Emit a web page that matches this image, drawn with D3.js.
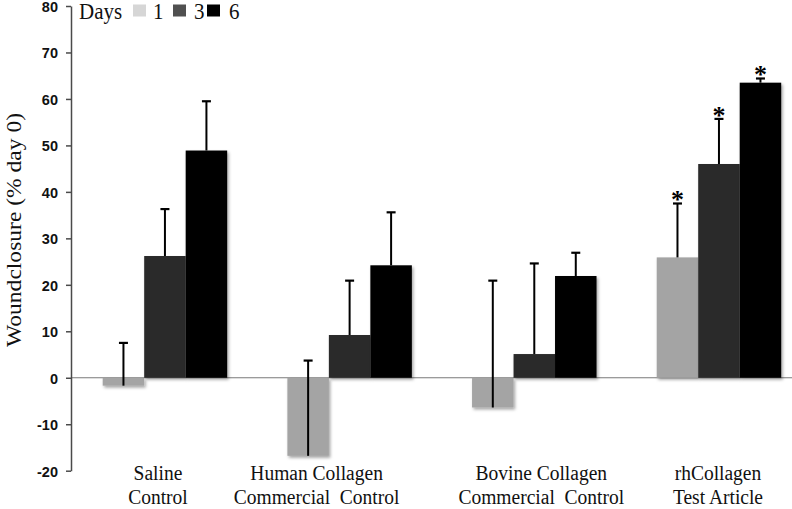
<!DOCTYPE html>
<html>
<head>
<meta charset="utf-8">
<script src="https://cdn.jsdelivr.net/npm/d3@7"></script>
<style>
  html, body { margin: 0; padding: 0; background: #fff; }
  svg { display: block; }
</style>
</head>
<body>
<svg id="chart" width="792" height="509"></svg>
<script>
// ---------------- DATA ----------------
const categories = ["Saline Control", "Human Collagen Commercial Control", "Bovine Collagen Commercial Control", "rhCollagen Test Article"];
const labelLine1 = ["Saline", "Human Collagen", "Bovine Collagen", "rhCollagen"];
const labelLine2 = ["Control", "Commercial  Control", "Commercial  Control", "Test Article"];
const days = ["1", "3", "6"];
const day1 = [-1.7, -16.8, -6.4, 25.9];
const day3 = [26.2, 9.2, 5.1, 46.0];
const day6 = [48.9, 24.2, 21.9, 63.5];
const day1Err = [9.2, 20.5, 27.3, 11.6];
const day3Err = [10.1, 11.7, 19.5, 9.7];
const day6Err = [10.6, 11.4, 5.0, 0.9];
const significant = [false, false, false, true];
const yTicks = [-20, -10, 0, 10, 20, 30, 40, 50, 60, 70, 80];
const yTitle = "Woundclosure (% day 0)";
const legendTitle = "Days";

// ---------------- LAYOUT ----------------
const W = 792, H = 509;
const axisX = 71;
const yTop = 6, yBottom = 470.7;
const barColors = ["#a4a4a4", "#2a2a2a", "#000000"];
const legendColors = ["#d6d6d6", "#505050", "#000000"];
const labelNudge = [-7, -33, 7, -1];
const serif = "'Liberation Serif', 'Times New Roman', serif";
const sans = "'Liberation Sans', Arial, sans-serif";
const vStretch = 1.08;

const svg = d3.select("#chart");
const defs = svg.append("defs");
const f = defs.append("filter").attr("id", "shadow")
  .attr("x", "-10%").attr("y", "-10%").attr("width", "130%").attr("height", "130%");
f.append("feDropShadow").attr("dx", 1.5).attr("dy", 2).attr("stdDeviation", 1.5)
  .attr("flood-color", "#000").attr("flood-opacity", 0.35);

const y = d3.scaleLinear().domain([-20, 80]).range([yBottom, yTop]);
const x0 = d3.scaleBand().domain(categories).range([72.6, 811.3])
  .paddingInner(0.326).paddingOuter(0.163);
const x1 = d3.scaleBand().domain(days).range([0, x0.bandwidth()]).padding(0);

const series = [
  { day: "1", values: day1, errs: day1Err },
  { day: "3", values: day3, errs: day3Err },
  { day: "6", values: day6, errs: day6Err }
];

// zero line
svg.append("line")
  .attr("x1", axisX).attr("x2", W)
  .attr("y1", y(0)).attr("y2", y(0))
  .attr("stroke", "#7a7a7a").attr("stroke-width", 1.2);

// bars
series.forEach((s, si) => {
  const g = svg.append("g").attr("filter", "url(#shadow)");
  g.selectAll("rect").data(categories).join("rect")
    .attr("x", (c) => x0(c) + x1(s.day))
    .attr("width", x1.bandwidth())
    .attr("y", (c, i) => y(Math.max(0, s.values[i])))
    .attr("height", (c, i) => Math.abs(y(s.values[i]) - y(0)))
    .attr("fill", barColors[si]);
});

// error bars
series.forEach((s) => {
  const g = svg.append("g");
  categories.forEach((c, i) => {
    const cx = x0(c) + x1(s.day) + x1.bandwidth() / 2;
    const yv = y(s.values[i]);
    const ye = y(s.values[i] + s.errs[i]);
    g.append("line").attr("x1", cx).attr("x2", cx).attr("y1", yv).attr("y2", ye)
      .attr("stroke", "#000").attr("stroke-width", 2);
    g.append("line").attr("x1", cx - 4.5).attr("x2", cx + 4.5).attr("y1", ye).attr("y2", ye)
      .attr("stroke", "#000").attr("stroke-width", 2.2);
    if (significant[i]) {
      g.append("text").attr("x", cx).attr("y", ye + 5)
        .attr("text-anchor", "middle")
        .attr("font-family", serif).attr("font-weight", "bold").attr("font-size", 26)
        .attr("fill", "#000").text("*");
    }
  });
});

// y axis
const yAxis = d3.axisLeft(y).tickValues(yTicks).tickSize(5).tickSizeOuter(0).tickPadding(8)
  .tickFormat((d) => String(d));
const ag = svg.append("g").attr("transform", `translate(${axisX},0)`).call(yAxis);
ag.select(".domain").attr("stroke", "#4a4a4a").attr("stroke-width", 1.5);
ag.selectAll(".tick line").attr("stroke", "#4a4a4a").attr("stroke-width", 1.5);
ag.selectAll(".tick text")
  .attr("font-family", sans).attr("font-weight", "bold").attr("font-size", 14.5)
  .attr("fill", "#111").attr("dy", "0.38em");

// y title
svg.append("text")
  .attr("transform", `translate(21,230) rotate(-90)`)
  .attr("text-anchor", "middle")
  .attr("font-family", serif).attr("font-size", 22)
  .attr("textLength", 234).attr("lengthAdjust", "spacingAndGlyphs")
  .attr("fill", "#111").text(yTitle);

// category labels
categories.forEach((c, i) => {
  const cx = x0(c) + x0.bandwidth() / 2 + labelNudge[i];
  [labelLine1[i], labelLine2[i]].forEach((t, li) => {
    svg.append("g").attr("transform", `translate(${cx},${480 + li * 24}) scale(1,${vStretch})`)
      .append("text").attr("text-anchor", "middle")
      .attr("font-family", serif).attr("font-size", 19.5)
      .attr("fill", "#111").attr("xml:space", "preserve")
      .style("white-space", "pre")
      .text(t);
  });
});

// legend
const lg = svg.append("g");
lg.append("g").attr("transform", `translate(79,19) scale(1,${vStretch})`)
  .append("text").attr("font-family", serif).attr("font-size", 21).attr("fill", "#111").text(legendTitle);
const sqX = [133, 173, 207];
const numX = [153, 194, 229];
days.forEach((d, i) => {
  lg.append("rect").attr("x", sqX[i]).attr("y", 4.5).attr("width", 13).attr("height", 12)
    .attr("fill", legendColors[i]);
  lg.append("g").attr("transform", `translate(${numX[i]},19) scale(1,${vStretch})`)
    .append("text").attr("font-family", serif).attr("font-size", 21).attr("fill", "#111").text(d);
});
</script>
</body>
</html>
